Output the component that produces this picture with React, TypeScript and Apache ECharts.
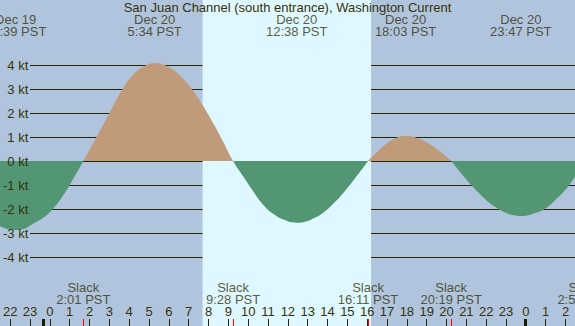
import React, { useEffect, useRef } from 'react';
import * as echarts from 'echarts';

const TITLE = 'San Juan Channel (south entrance), Washington Current';

// Current curve: hours from Dec 20 00:00 PST, knots
const curveHours = [-3, -2.5, -2, -1.35, -1, -0.5, 0, 0.5, 1, 1.5, 2.017, 2.5, 3, 3.5, 4, 4.5, 5, 5.567, 6, 6.5, 7, 7.5, 8, 8.5, 9, 9.467, 10, 10.5, 11, 11.5, 12, 12.633, 13, 13.5, 14, 14.5, 15, 15.5, 16, 16.183, 16.5, 17, 17.5, 18.05, 18.5, 19, 19.5, 20, 20.317, 20.5, 21, 21.5, 22, 22.5, 23, 23.5, 23.783, 24, 24.5, 25, 25.5, 26, 26.5, 26.95, 27.5];
const curveKnots = [-2.05, -2.5, -2.76, -2.88, -2.84, -2.62, -2.38, -2.0, -1.45, -0.76, 0, 0.73, 1.5, 2.29, 3.03, 3.6, 3.93, 4.07, 4.01, 3.79, 3.41, 2.9, 2.26, 1.54, 0.76, 0, -0.68, -1.3, -1.85, -2.22, -2.45, -2.57, -2.54, -2.38, -2.12, -1.74, -1.28, -0.76, -0.21, 0, 0.27, 0.66, 0.93, 1.04, 0.99, 0.82, 0.56, 0.23, 0, -0.19, -0.7, -1.17, -1.58, -1.91, -2.15, -2.27, -2.29, -2.28, -2.17, -1.98, -1.62, -1.2, -0.63, 0, 0.6];

const hourTicks = [-2, -1, 0, 1, 2, 3, 4, 5, 6, 7, 8, 9, 10, 11, 12, 13, 14, 15, 16, 17, 18, 19, 20, 21, 22, 23, 24, 25, 26];

const extremaDates = ['Dec 19', 'Dec 20', 'Dec 20', 'Dec 20', 'Dec 20'];
const extremaTimes = ['22:39', '5:34', '12:38', '18:03', '23:47'];

const slackDates = ['Dec 20', 'Dec 20', 'Dec 20', 'Dec 20', 'Dec 21'];
const slackTimes = ['2:01', '9:28', '16:11', '20:19', '2:57'];

const sunrise = ['Dec 20', '7:57'];
const sunset = ['Dec 20', '16:20'];
const midnights = ['Dec 20', 'Dec 21'];

const dayOffset: Record<string, number> = { 'Dec 19': -24, 'Dec 20': 0, 'Dec 21': 24 };
const toHours = (date: string, time: string) => {
  const [hh, mm] = time.split(':').map(Number);
  return dayOffset[date] + hh + mm / 60;
};

const FONT = '"Liberation Sans", Arial, sans-serif';
const TEXT = '#33330a';
const DARK = '#26260a';
const NIGHT = '#b0c4de';
const DAY = '#dff8ff';
const TAN = '#bf9b7a';
const GREEN = '#529673';
// visible time window (hours from Dec 20 00:00)
const XMIN = -2.129;
const XMAX = 26.478;

export default function App() {
  const ref = useRef<HTMLDivElement>(null);
  useEffect(() => {
    if (!ref.current) return;
    const chart = echarts.init(ref.current, undefined, { renderer: 'svg' });
    const curve = curveHours.map((h, i) => [h, curveKnots[i]]);
    const extrema = extremaDates.map((d, i) => ({
      name: `${d}\n${extremaTimes[i]} PST`,
      value: [toHours(d, extremaTimes[i]), 25.5],
    }));
    const slacks = slackDates.map((d, i) => ({
      name: `Slack\n${slackTimes[i]} PST`,
      value: [toHours(d, slackTimes[i]), 293.3],
    }));
    const labelStyle = {
      show: true,
      position: 'inside',
      formatter: '{b}',
      fontSize: 13,
      lineHeight: 12.5,
      color: TEXT,
      fontFamily: FONT,
      align: 'center',
    };
    const hidden = (g: number, min: number, max: number, extra: any = {}) => ({
      gridIndex: g,
      type: 'value',
      min,
      max,
      show: false,
      ...extra,
    });
    const option: any = {
      animation: false,
      backgroundColor: NIGHT,
      title: {
        text: TITLE,
        left: 'center',
        top: 1.5,
        padding: 0,
        textStyle: { fontSize: 13, fontWeight: 'normal', color: TEXT, fontFamily: FONT, lineHeight: 12 },
      },
      visualMap: {
        show: false,
        type: 'piecewise',
        seriesIndex: 1,
        dimension: 1,
        pieces: [
          { gt: 0, lte: 10, color: TAN },
          { gt: -10, lte: 0, color: GREEN },
        ],
        outOfRange: { color: GREEN },
      },
      grid: [
        { left: 0, right: 0, top: 0, bottom: 0 }, // 0: full canvas (band, labels)
        { left: 0, right: 0, top: 17, bottom: 21 }, // 1: curve (-6..6 kt)
        { left: 30, right: 0, top: 65, bottom: 69 }, // 2: kt grid lines
        { left: 0, right: 0, top: 290, bottom: 0 }, // 3: hour ticks + labels
        { left: 0, right: 0, top: 319, bottom: 0 }, // 4: midnight / slack marks
        { left: 30, right: 0, top: 65, bottom: 69 }, // 5: kt labels (above curve)
      ],
      xAxis: [
        hidden(0, XMIN, XMAX),
        hidden(1, XMIN, XMAX),
        hidden(2, 0, 1),
        {
          gridIndex: 3,
          type: 'value',
          min: XMIN,
          max: XMAX,
          position: 'bottom',
          z: 1,
          axisLine: { show: false },
          splitLine: { show: false },
          axisTick: {
            show: true,
            inside: true,
            length: 7,
            customValues: hourTicks,
            lineStyle: { color: DARK, width: 1 },
          },
          axisLabel: {
            inside: true,
            margin: 8,
            customValues: hourTicks,
            fontSize: 13,
            color: TEXT,
            fontFamily: FONT,
            formatter: (v: number) => String(((Math.round(v) % 24) + 24) % 24),
          },
        },
        hidden(4, XMIN, XMAX),
        hidden(5, 0, 1),
      ],
      yAxis: [
        hidden(0, 0, 326, { inverse: true }),
        hidden(1, -6, 6),
        {
          gridIndex: 2,
          type: 'value',
          min: -4,
          max: 4,
          interval: 1,
          z: 1,
          axisLine: { show: false },
          axisTick: { show: false },
          axisLabel: { show: false },
          splitLine: { show: true, lineStyle: { color: DARK, width: 1 } },
        },
        hidden(3, 0, 1),
        hidden(4, 0, 1),
        {
          gridIndex: 5,
          type: 'value',
          min: -4,
          max: 4,
          interval: 1,
          z: 6,
          axisLine: { show: false },
          axisTick: { show: false },
          splitLine: { show: false },
          axisLabel: {
            margin: 2,
            fontSize: 13,
            color: TEXT,
            fontFamily: FONT,
            formatter: (v: number) => `${v} kt`,
          },
        },
      ],
      series: [
        {
          type: 'line',
          xAxisIndex: 0,
          yAxisIndex: 0,
          data: [[XMIN - 1, -10]],
          symbol: 'none',
          z: 0,
          silent: true,
          markArea: {
            silent: true,
            itemStyle: { color: DAY, opacity: 1 },
            data: [[{ xAxis: toHours(sunrise[0], sunrise[1]) }, { xAxis: toHours(sunset[0], sunset[1]) }]],
          },
        },
        {
          type: 'line',
          xAxisIndex: 1,
          yAxisIndex: 1,
          data: curve,
          smooth: 0.5,
          symbol: 'none',
          clip: true,
          silent: true,
          z: 3,
          lineStyle: { width: 0 },
          areaStyle: { opacity: 1 },
        },
        {
          type: 'line',
          xAxisIndex: 4,
          yAxisIndex: 4,
          data: [[XMIN - 1, -10]],
          symbol: 'none',
          z: 2,
          silent: true,
          markLine: {
            silent: true,
            symbol: 'none',
            label: { show: false },
            data: [
              ...midnights.map((d) => ({ xAxis: toHours(d, '0:00'), lineStyle: { color: '#1a1a00', width: 3, type: 'solid' } })),
              ...slackDates.map((d, i) => ({ xAxis: toHours(d, slackTimes[i]), lineStyle: { color: '#ff0000', width: 1, type: 'solid' } })),
            ],
          },
        },
        {
          type: 'scatter',
          xAxisIndex: 0,
          yAxisIndex: 0,
          symbolSize: 0,
          z: 4,
          silent: true,
          clip: false,
          data: extrema,
          label: labelStyle,
        },
        {
          type: 'scatter',
          xAxisIndex: 0,
          yAxisIndex: 0,
          symbolSize: 0,
          z: 4,
          silent: true,
          clip: false,
          data: slacks,
          label: labelStyle,
        },
      ],
    };
    chart.setOption(option);
    return () => chart.dispose();
  }, []);
  return <div ref={ref} style={{ position: 'fixed', left: 0, top: 0, width: 575, height: 326 }} />;
}
